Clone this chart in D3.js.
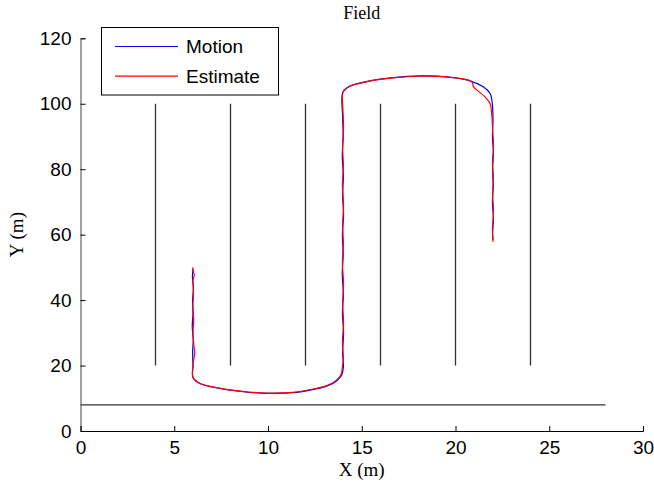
<!DOCTYPE html>
<html><head><meta charset="utf-8">
<script src="https://cdn.jsdelivr.net/npm/d3@7"></script>
<style>body{margin:0;background:#fff}svg{display:block}</style>
</head><body>
<svg id="c" width="654" height="487"></svg>
<script>
const xTicks = [0,5,10,15,20,25,30];
const yTicks = [0,20,40,60,80,100,120];
const seriesNames = ["Motion","Estimate"];
const seriesColors = ["#0000ff","#ff0000"];
// fence rows: x position, from y, to y
const fenceX = [4,8,12,16,20,24];
const fenceY = [20,100];
// boundary line
const boundary = [[0,8],[28,8]];
const motion = [[6.00,49.5],[5.97,47],[6.02,44],[5.98,40],[6.00,36],[5.96,32],[6.01,28],[5.98,24],[6.00,20],[6.00,16.3],[6.37,14.5],[7.44,13.0],[8.68,12.0],[9.96,11.5],[11.35,11.7],[12.24,12.5],[13.13,13.7],[13.66,15.3],[13.93,17.1],[14.02,19.6],[13.98,24],[14.03,30],[13.97,36],[14.02,42],[13.96,48],[14.01,54],[13.97,60],[14.03,66],[13.98,72],[14.02,78],[13.96,84],[14.01,90],[13.98,96],[14.0,103.7],[14.37,105.4],[15.44,107.0],[16.68,108.0],[18.1,108.5],[19.53,108.2],[20.77,107.0],[21.48,105.2],[21.84,103.2],[21.96,100.1],[22.0,95],[21.97,90],[22.02,85],[21.98,80],[22.01,75],[21.97,70],[22.02,65],[21.98,60],[22.0,58.4]];
const estimate = [[5.98,50.0],[6.03,48.5],[6.07,47.7],[6.0,46],[6.03,42],[5.99,38],[6.04,34],[6.0,30],[6.05,26],[6.09,23.7],[6.02,21],[6.0,16.4],[6.35,14.6],[7.4,13.1],[8.65,12.1],[9.95,11.6],[11.3,11.8],[12.2,12.6],[13.1,13.8],[13.62,15.4],[13.9,17.3],[13.97,19.8],[14.02,22],[13.97,27],[14.03,33],[13.98,39],[14.03,45],[13.97,51],[14.02,57],[13.98,63],[14.03,69],[13.97,75],[14.02,81],[13.98,87],[14.03,93],[13.99,99],[14.0,103.5],[14.35,105.3],[15.42,106.9],[16.66,107.9],[18.1,108.4],[19.5,108.2],[20.86,106.8],[20.95,105.3],[21.04,104.7],[21.57,102.1],[21.84,100.1],[21.93,97],[21.98,92],[22.03,87],[21.97,82],[22.02,77],[21.98,72],[22.03,67],[21.97,62],[22.0,57.8]];

const svg = d3.select("#c");
const x = d3.scaleLinear().domain([0,30]).range([80.5,643]);
const y = d3.scaleLinear().domain([0,120]).range([431,38.3]);
const sans = "'Liberation Sans', Arial, sans-serif";
const serif = "'Liberation Serif', 'Times New Roman', serif";

// fences
svg.append("g").selectAll("line").data(fenceX).join("line")
  .attr("x1",d=>x(d)).attr("x2",d=>x(d))
  .attr("y1",y(fenceY[0])).attr("y2",y(fenceY[1]))
  .attr("stroke","#333").attr("stroke-width",1.3);
svg.append("line")
  .attr("x1",x(boundary[0][0])).attr("y1",y(boundary[0][1]))
  .attr("x2",x(boundary[1][0])).attr("y2",y(boundary[1][1]))
  .attr("stroke","#333").attr("stroke-width",1.3);

const line = d3.line().x(d=>x(d[0])).y(d=>y(d[1])).curve(d3.curveCatmullRom);
[motion, estimate].forEach((s,i)=>{
  svg.append("path").attr("d",line(s)).attr("fill","none")
    .attr("stroke",seriesColors[i]).attr("stroke-width",1.2);
});

// axes
const xAxis = svg.append("g").attr("transform",`translate(0,${y(0)})`)
  .call(d3.axisBottom(x).tickValues(xTicks).tickSizeInner(-5).tickSizeOuter(-5).tickPadding(10));
const yAxis = svg.append("g").attr("transform",`translate(${x(0)},0)`)
  .call(d3.axisLeft(y).tickValues(yTicks).tickSizeInner(-5).tickSizeOuter(-5).tickPadding(9));
[xAxis,yAxis].forEach(a=>{
  a.selectAll("path,line").attr("stroke","#000");
  a.selectAll("text").attr("font-family",sans).attr("font-size",19).attr("fill","#000");
});
yAxis.select("path.domain").attr("stroke","#444");

svg.append("text").attr("x",(x(0)+x(30))/2).attr("y",19).attr("text-anchor","middle")
  .attr("font-family",serif).attr("font-size",18).text("Field");
svg.append("text").attr("x",(x(0)+x(30))/2).attr("y",476).attr("text-anchor","middle")
  .attr("font-family",serif).attr("font-size",19).text("X (m)");
svg.append("text").attr("transform",`translate(23,${(y(0)+y(120))/2}) rotate(-90)`).attr("text-anchor","middle")
  .attr("font-family",serif).attr("font-size",19).text("Y (m)");

// legend
const lg = svg.append("g");
lg.append("rect").attr("x",101.5).attr("y",27.5).attr("width",177).attr("height",67.5)
  .attr("fill","#fff").attr("stroke","#000").attr("stroke-width",1);
seriesNames.forEach((n,i)=>{
  const yy = 46.5 + i*29.7;
  lg.append("line").attr("x1",115).attr("x2",178).attr("y1",yy).attr("y2",yy)
    .attr("stroke",seriesColors[i]).attr("stroke-width",1.2);
  lg.append("text").attr("x",186).attr("y",yy).attr("dy","0.35em")
    .attr("font-family",sans).attr("font-size",19).text(n);
});
</script>
</body></html>
